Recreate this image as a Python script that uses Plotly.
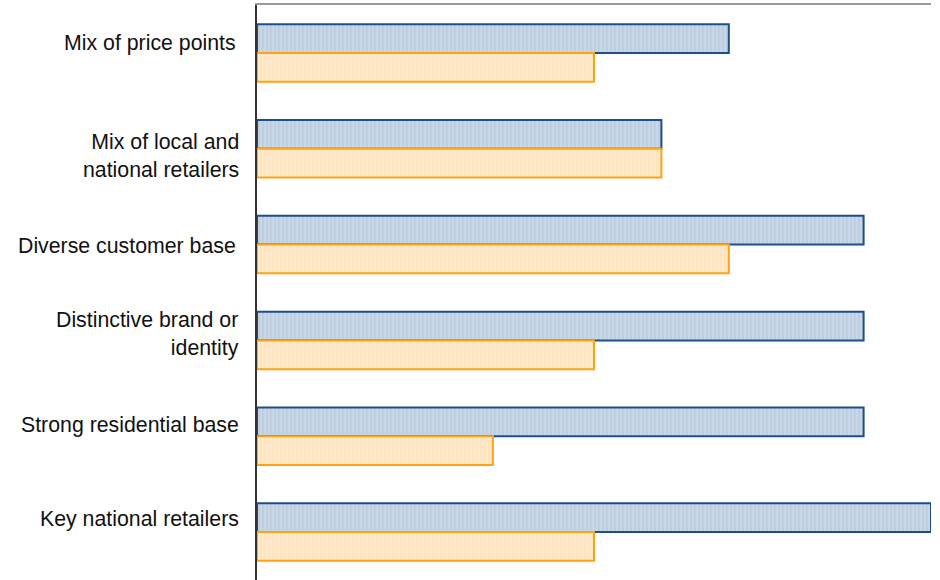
import plotly.graph_objects as go

categories = [
    "Mix of price points",
    "Mix of local and<br>national retailers",
    "Diverse customer base",
    "Distinctive brand or<br>identity",
    "Strong residential base",
    "Key national retailers",
]
series_a = [14, 12, 18, 18, 18, 20]
series_b = [10, 12, 14, 10, 7, 10]
x_max = 20

# nudges of the category labels (pixels, positive = up / right)
label_shift = [10, -7, -1, 6, 11, 13]
label_xshift = [-19, -16, -19, -16, -16, -16]

fig = go.Figure()
fig.add_trace(go.Bar(
    y=categories, x=series_a, orientation="h", name="A",
    marker=dict(color="#c6d5e5", line=dict(color="#1c4f8a", width=2),
                pattern=dict(shape="|", fgcolor="#aebfd3", bgcolor="#c8d7e7", size=4, solidity=0.35)),
))
fig.add_trace(go.Bar(
    y=categories, x=series_b, orientation="h", name="B",
    marker=dict(color="#fee6c4", line=dict(color="#ffa30f", width=2),
                pattern=dict(shape="|", fgcolor="#fff2de", bgcolor="#fde4c0", size=4, solidity=0.35)),
))

for cat, dy, dx in zip(categories, label_shift, label_xshift):
    fig.add_annotation(
        x=0, xref="paper", y=cat, yref="y", text=cat, showarrow=False,
        xanchor="right", yanchor="middle", align="right",
        xshift=dx, yshift=dy,
        font=dict(family="Liberation Sans, Arial, sans-serif", size=21.3, color="#111111"),
    )

fig.update_layout(
    width=940, height=580,
    margin=dict(l=257, r=9, t=5, b=0),
    plot_bgcolor="white", paper_bgcolor="white",
    barmode="group", bargap=0.4, bargroupgap=0.0,
    showlegend=False,
    font=dict(family="Liberation Sans, Arial, sans-serif", size=21, color="#111111"),
    xaxis=dict(range=[0, x_max], showgrid=False, zeroline=False, showticklabels=False,
               showline=True, linecolor="#9a9a9a", linewidth=2, mirror=True),
    yaxis=dict(autorange="reversed", showgrid=False, zeroline=False,
               showline=True, linecolor="#333333", linewidth=2,
               ticks="", showticklabels=False),
)
fig.write_html("out.html")
